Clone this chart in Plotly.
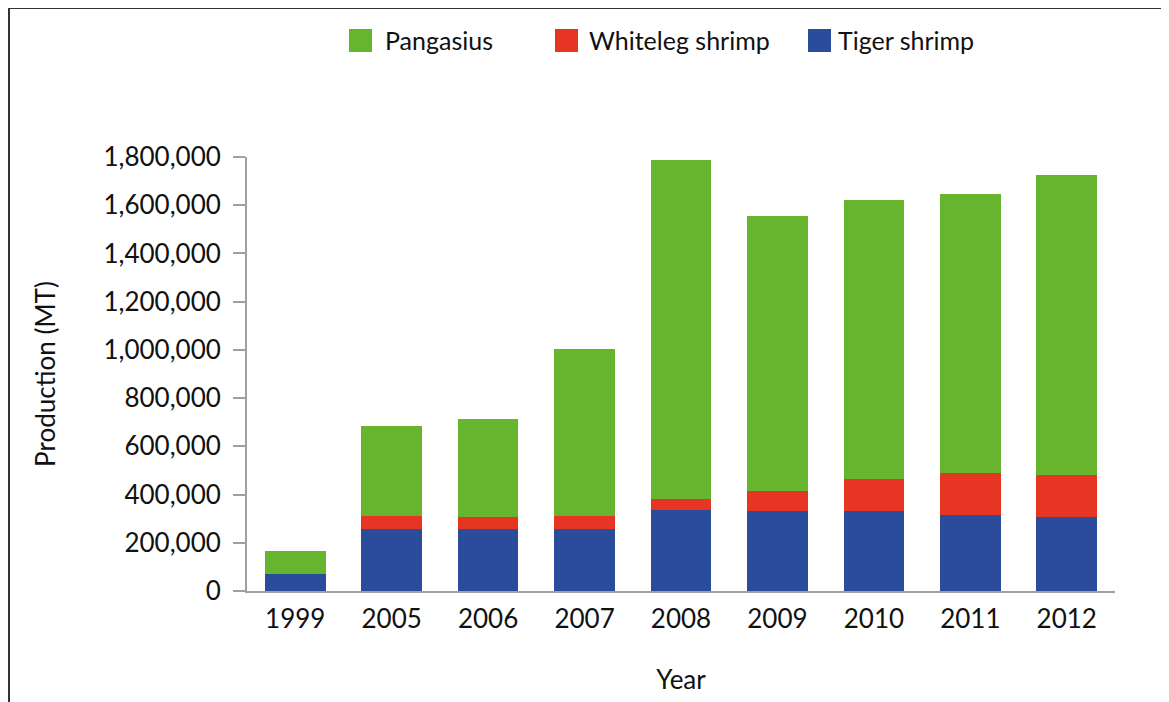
import plotly.graph_objects as go

years = ["1999", "2005", "2006", "2007", "2008", "2009", "2010", "2011", "2012"]
tiger = [70000, 256000, 257000, 257000, 338000, 333000, 333000, 316000, 308000]
whiteleg = [0, 56000, 51000, 56000, 45000, 83000, 133000, 175000, 174000]
pangasius = [95000, 372000, 407000, 689000, 1405000, 1139000, 1156000, 1156000, 1244000]
y_ticks = [0, 200000, 400000, 600000, 800000, 1000000, 1200000, 1400000, 1600000, 1800000]

series = [("Tiger shrimp", tiger, "#2B4B9B"),
          ("Whiteleg shrimp", whiteleg, "#E63522"),
          ("Pangasius", pangasius, "#67B42E")]

FONT = "Lato"
fig = go.Figure()
for name, vals, col in series:
    fig.add_trace(go.Bar(x=years, y=vals, name=name, marker_color=col, marker_line_width=0))

# Page has an 8px body margin; figure is sized to fill the rest of the window
OFF = 8
FW, FH = 1169 - OFF, 702 - OFF
# plot area in page pixels
L, R, T, B = 247, 1115, 157, 591
W, H = R - L, B - T
def px(x): return (x - L) / W
def py(y): return (B - y) / H

legend_items = [("Pangasius", "#67B42E", 349, 383),
                ("Whiteleg shrimp", "#E63522", 555, 587),
                ("Tiger shrimp", "#2B4B9B", 808, 836)]
shapes = [dict(type="rect", xref="paper", yref="paper", x0=px(9), x1=px(1200), y0=py(760), y1=py(8),
               line=dict(color="#333", width=2), fillcolor="rgba(0,0,0,0)", layer="below")]
annotations = []
for name, col, sx, tx in legend_items:
    shapes.append(dict(type="rect", xref="paper", yref="paper", x0=px(sx), x1=px(sx + 23),
                       y0=py(52), y1=py(29), line=dict(width=0), fillcolor=col))
    annotations.append(dict(text=name, xref="paper", yref="paper", x=px(tx), y=py(40),
                            xanchor="left", yanchor="middle", showarrow=False,
                            font=dict(family=FONT, size=25, color="#111")))

fig.update_layout(
    barmode="stack",
    bargap=0.37,
    width=FW, height=FH,
    margin=dict(l=L - OFF, r=FW - (R - OFF), t=T - OFF, b=FH - (B - OFF), autoexpand=False),
    paper_bgcolor="white", plot_bgcolor="white",
    font=dict(family=FONT, size=26, color="#111"),
    showlegend=False,
    xaxis=dict(showline=True, linecolor="#A0A0A0", linewidth=2, ticks="", showgrid=False,
               ticklabelstandoff=4, tickfont=dict(size=26),
               title=dict(text="Year", font=dict(size=26), standoff=38)),
    yaxis=dict(range=[0, 1800000], tickvals=y_ticks, tickformat=",d", showline=True,
               linecolor="#A0A0A0", linewidth=2, ticks="outside", ticklen=12, tickcolor="#A0A0A0",
               tickwidth=2, showgrid=False, zeroline=False, tickfont=dict(size=26),
               ticklabelstandoff=7,
               title=dict(text="Production (MT)", font=dict(size=26), standoff=40)),
    shapes=shapes,
    annotations=annotations,
)
fig.write_html("out.html")
